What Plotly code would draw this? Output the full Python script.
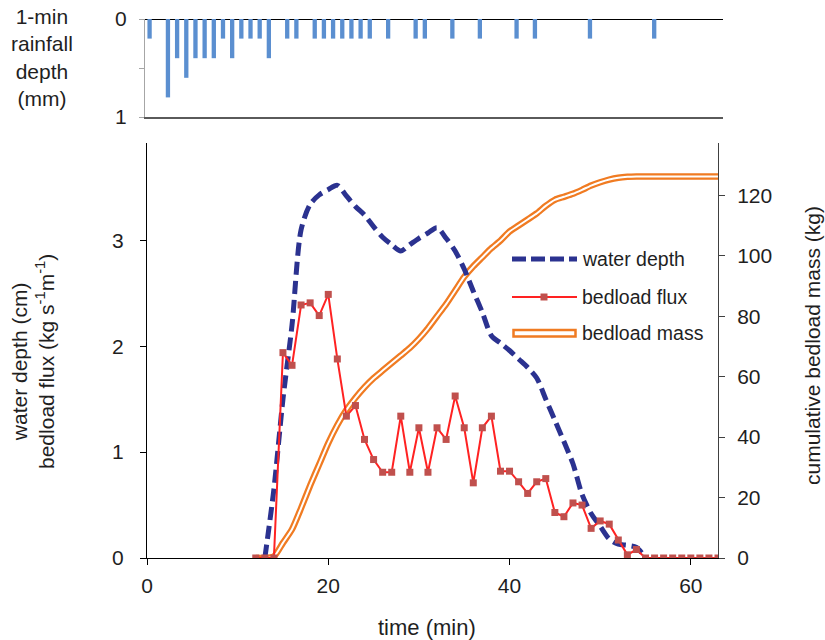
import plotly.graph_objects as go

# 1-minute rainfall depth (mm), by minute index
rain_minute = [0, 2, 3, 4, 5, 6, 7, 8, 9, 10, 11, 12, 13, 15, 16, 18, 19, 20, 21,
               22, 23, 24, 26, 29, 30, 33, 36, 40, 42, 48, 55]
rain_mm = [0.2, 0.8, 0.4, 0.6, 0.4, 0.4, 0.4, 0.2, 0.4, 0.2, 0.2, 0.2, 0.4, 0.2, 0.2,
           0.2, 0.2, 0.2, 0.2, 0.2, 0.2, 0.2, 0.2, 0.2, 0.2, 0.2, 0.2, 0.2, 0.2, 0.2, 0.2]

# water depth (cm)
depth_time = [13, 14, 15, 16, 17, 18, 19, 20, 21, 22, 23, 24, 25, 26, 27, 28, 29, 30,
              31, 32, 33, 34, 35, 36, 37, 38, 39, 40, 41, 42, 43, 44, 45, 46, 47, 48,
              49, 50, 51, 52, 53, 54, 55]
depth_cm = [0, 0.65, 1.5, 2.2, 3.1, 3.34, 3.43, 3.48, 3.52, 3.42, 3.32, 3.24, 3.13,
            3.03, 2.96, 2.9, 2.96, 3.02, 3.07, 3.12, 3.02, 2.9, 2.73, 2.52, 2.32, 2.1,
            2.03, 1.96, 1.88, 1.8, 1.7, 1.5, 1.3, 1.1, 0.89, 0.6, 0.42, 0.3, 0.18, 0.13,
            0.12, 0.1, 0]

# bedload flux (kg s-1 m-1) and cumulative bedload mass (kg)
sed_time = list(range(12, 64))
flux = [0, 0, 0, 1.94, 1.82, 2.39, 2.41, 2.29, 2.49, 1.88, 1.34, 1.44, 1.12, 0.93,
        0.81, 0.81, 1.34, 0.81, 1.23, 0.81, 1.23, 1.12, 1.53, 1.23, 0.71, 1.23, 1.34,
        0.82, 0.82, 0.72, 0.61, 0.72, 0.75, 0.43, 0.39, 0.52, 0.50, 0.28, 0.35, 0.32,
        0.17, 0.03, 0.08, 0, 0, 0, 0, 0, 0, 0, 0, 0]
mass = [0, 0, 0.5, 5, 9.5, 16.5, 24, 31, 38, 44, 49, 53, 56.5, 59.5, 62, 64.5, 67,
        69.5, 72.5, 76, 80, 84, 88.5, 93, 96.5, 99.5, 102.5, 105, 108, 110, 112, 114,
        116.5, 118.5, 119.5, 120.5, 121.8, 123.2, 124.3, 125.2, 125.8, 126.1, 126.2,
        126.2, 126.2, 126.2, 126.2, 126.2, 126.2, 126.2, 126.2, 126.2]

x_ticks = [0, 20, 40, 60]
depth_ticks = [0, 1, 2, 3]
mass_ticks = [0, 20, 40, 60, 80, 100, 120]
rain_ticks = [0, 1]

NAVY = "#2B3290"
RED = "#FF2222"
MARKER = "#C0504D"
ORANGE = "#F07B22"
BLUE = "#5B8FD0"
TXT = "#1f1f1f"
FONT = "Liberation Sans, Arial, sans-serif"

W, H = 825, 640


def px(x):
    return x / W


def py(y):
    return 1 - y / H


fig = go.Figure()

# rainfall hyetograph (top panel)
fig.add_trace(go.Bar(x=rain_minute, y=rain_mm, xaxis="x2", yaxis="y3",
                     marker=dict(color=BLUE, line=dict(width=0)), width=0.47,
                     showlegend=False))

# cumulative mass on the right axis (drawn beneath the left-axis series)
fig.add_trace(go.Scatter(x=sed_time, y=mass, xaxis="x", yaxis="y", mode="lines",
                         line=dict(color=ORANGE, width=6.5, shape="spline", smoothing=0.6),
                         showlegend=False))
fig.add_trace(go.Scatter(x=sed_time, y=mass, xaxis="x", yaxis="y", mode="lines",
                         line=dict(color="white", width=2, shape="spline", smoothing=0.6),
                         showlegend=False))

# water depth
fig.add_trace(go.Scatter(x=depth_time, y=depth_cm, xaxis="x", yaxis="y2", mode="lines",
                         line=dict(color=NAVY, width=5, dash="13px,6px",
                                   shape="spline", smoothing=0.8),
                         showlegend=False))

# bedload flux
fig.add_trace(go.Scatter(x=sed_time, y=flux, xaxis="x", yaxis="y2", mode="lines+markers",
                         line=dict(color=RED, width=2),
                         marker=dict(symbol="square", size=7, color=MARKER),
                         showlegend=False))

tickfont = dict(family=FONT, size=21, color=TXT)

fig.update_layout(
    width=W, height=H,
    margin=dict(l=0, r=0, t=0, b=0, autoexpand=False),
    paper_bgcolor="white", plot_bgcolor="white",
    showlegend=False,
    xaxis=dict(domain=[px(147), px(718)], range=[0, 63], anchor="y2", automargin=False,
               tickvals=x_ticks, ticks="outside", ticklen=6, tickcolor="#000",
               showline=True, linecolor="#000", linewidth=1, showgrid=False,
               zeroline=False, tickfont=tickfont, ticklabelstandoff=3),
    yaxis=dict(domain=[py(558), py(143)], range=[0, 137.3], side="right", anchor="x",
               automargin=False,
               tickvals=mass_ticks, ticks="outside", ticklen=6, tickcolor="#404040",
               showline=True, linecolor="#404040", linewidth=1, showgrid=False,
               zeroline=False, tickfont=tickfont, ticklabelstandoff=8),
    yaxis2=dict(domain=[py(558), py(143)], range=[0, 3.92], side="left", anchor="x",
                overlaying="y", automargin=False, tickvals=depth_ticks, ticks="outside",
                ticklen=6, tickcolor="#000", showline=True, linecolor="#000", linewidth=1,
                showgrid=False, zeroline=False, tickfont=tickfont, ticklabelstandoff=12),
    xaxis2=dict(domain=[px(145), px(723)], range=[-0.5, 62.5], anchor="y3",
                automargin=False,
                showticklabels=False, ticks="", showline=True, linecolor="#5a5a5a",
                linewidth=1.5, showgrid=False, zeroline=False),
    yaxis3=dict(domain=[py(117), py(19)], range=[1, 0], anchor="x2", automargin=False,
                tickvals=rain_ticks, ticks="outside",
                ticklen=5, tickcolor="#a6a6a6", showline=True, linecolor="#a6a6a6",
                linewidth=1, showgrid=False, zeroline=True, zerolinecolor="#000",
                zerolinewidth=1, tickfont=tickfont, ticklabelstandoff=8,
                minor=dict(tickvals=[0.5], ticks="outside", ticklen=5,
                           tickcolor="#a6a6a6", showgrid=False)),
)

ann_font = dict(family=FONT, size=21, color=TXT)
annotations = [
    dict(text="water depth (cm)<br>bedload flux (kg s<sup>-1</sup>m<sup>-1</sup>)",
         x=px(33), y=py(362), textangle=-90, font=ann_font),
    dict(text="cumulative bedload mass (kg)", x=px(812), y=py(346), textangle=-90,
         font=ann_font),
    dict(text="time (min)", x=px(427), y=py(627), font=dict(family=FONT, size=22, color=TXT)),
    dict(text="1-min<br>rainfall<br>depth<br>(mm)", x=px(42), y=py(58), font=ann_font),
]
leg_font = dict(family=FONT, size=19.5, color=TXT)
for label, yy in [("water depth", 259), ("bedload flux", 297), ("bedload mass", 333)]:
    annotations.append(dict(text=label, x=px(580), y=py(yy), xanchor="left",
                            font=leg_font))
for a in annotations:
    a.update(xref="paper", yref="paper", showarrow=False)
    a.setdefault("xanchor", "center")
    a.setdefault("yanchor", "middle")
fig.update_layout(annotations=annotations)

# legend keys
shapes = [
    dict(type="line", x0=px(512), x1=px(577), y0=py(259), y1=py(259),
         line=dict(color=NAVY, width=5, dash="14px,5px")),
    dict(type="line", x0=px(512), x1=px(577), y0=py(297), y1=py(297),
         line=dict(color=RED, width=2)),
    dict(type="rect", x0=px(540.5), x1=px(547.5), y0=py(300.5), y1=py(293.5),
         line=dict(width=0), fillcolor=MARKER),
    dict(type="rect", x0=px(513.5), x1=px(575.5), y0=py(336.5), y1=py(330),
         line=dict(color=ORANGE, width=2.5), fillcolor="white"),
]
for s in shapes:
    s.update(xref="paper", yref="paper")
fig.update_layout(shapes=shapes)

fig.write_html("out.html")
